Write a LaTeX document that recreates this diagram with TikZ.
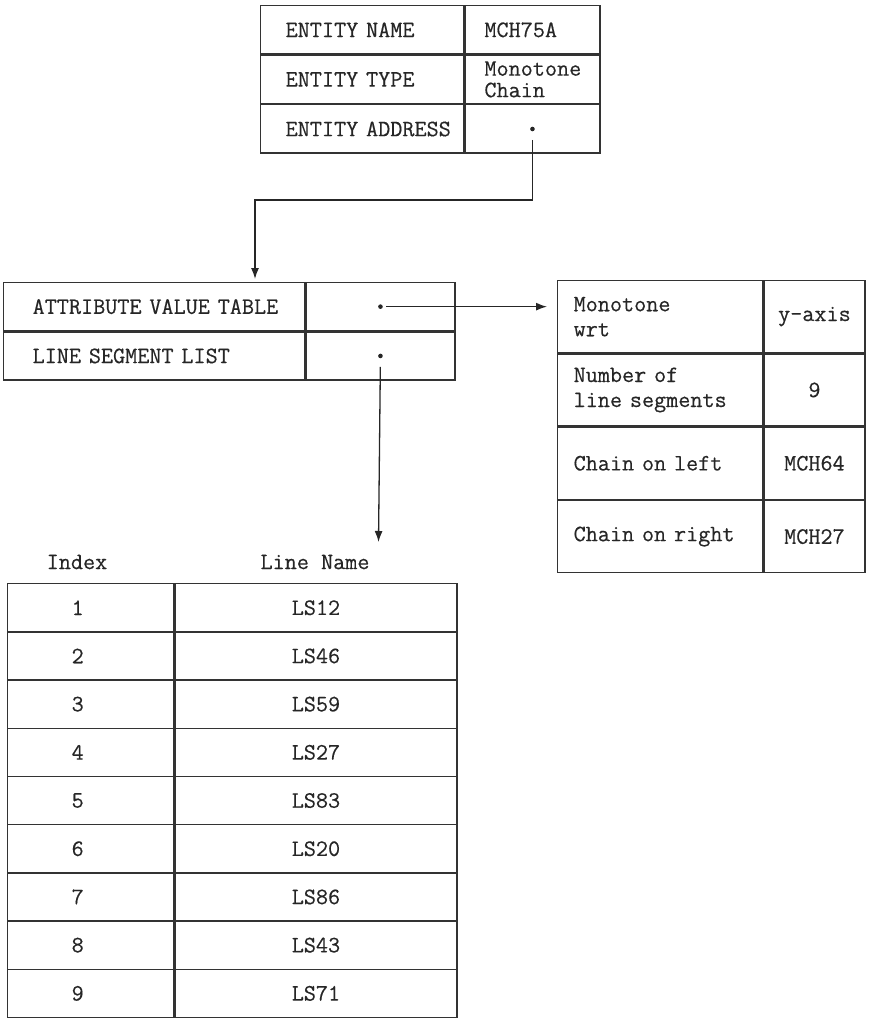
\documentclass[tikz,border=0pt]{standalone}
\usepackage{fontspec}
\setmonofont{Latin Modern Mono}[FakeBold=0.4]
\usetikzlibrary{arrows.meta}

\tikzset{
  cell/.style={draw=black!80, line width=1.3pt, anchor=north west, inner ysep=0pt, inner xsep=0pt},
  namecell/.style={cell, minimum width=203pt, minimum height=48.3pt, inner xsep=25pt, text width=153pt, align=left},
  valcell/.style={cell, minimum width=135pt, minimum height=48.3pt, text width=96pt, align=left},
  keycell/.style={cell, minimum width=301pt, minimum height=48pt, inner xsep=29pt, text width=243pt, align=left},
  ptrcell/.style={cell, minimum width=149pt, minimum height=48pt},
  attrcell/.style={cell, minimum width=205pt, minimum height=72pt, inner xsep=16pt, text width=173pt, align=left},
  avcell/.style={cell, minimum width=101pt, minimum height=72pt, align=center},
  idxcell/.style={cell, minimum width=166pt, minimum height=48.2pt, inner xsep=64pt, text width=38pt, align=left},
  lncell/.style={cell, minimum width=282pt, minimum height=48.2pt, align=center},
  colhead/.style={inner sep=0pt},
  dot/.style={circle, fill=black!85, inner sep=0pt, minimum size=4.6pt},
  arr/.style={draw=black!85, line width=1.3pt, -{Latex[length=11pt,width=8pt]}}
}

\begin{document}
\begin{tikzpicture}[x=1pt, y=-1pt, font=\fontsize{23.5}{25}\selectfont\ttfamily, text=black!85]
\useasboundingbox (0,0) rectangle (868,1019);

% entity record
\node[namecell] (enl) at (260,5) {ENTITY~NAME};
\node[valcell] (env) at (enl.north east) {MCH75A};
\node[namecell] (etl) at (enl.south west) {ENTITY~TYPE};
\node[valcell, font=\fontsize{23.5}{21.5}\selectfont\ttfamily] (etv) at (etl.north east) {Monotone\\Chain};
\node[namecell] (eal) at (etl.south west) {ENTITY~ADDRESS};
\node[valcell] (eav) at (eal.north east) {};
\node[dot] (adr) at (eav.center) {};

% chain record
\node[keycell] (avtl) at (3,282) {ATTRIBUTE~VALUE~TABLE};
\node[ptrcell] (avtv) at (avtl.north east) {};
\node[keycell] (lsll) at (avtl.south west) {LINE~SEGMENT~LIST};
\node[ptrcell] (lslv) at (lsll.north east) {};
\node[dot] (avtd) at (avtv.center) {};
\node[dot] (lsld) at (lslv.center) {};

% attribute value table
\node[attrcell] (mwl) at (557,280) {Monotone\\wrt};
\node[avcell] (mwv) at (mwl.north east) {y-axis};
\node[attrcell] (nsl) at (mwl.south west) {Number of\\line segments};
\node[avcell] (nsv) at (nsl.north east) {9};
\node[attrcell] (cll) at (nsl.south west) {Chain on left};
\node[avcell] (clv) at (cll.north east) {MCH64};
\node[attrcell] (crl) at (cll.south west) {Chain on right};
\node[avcell] (crv) at (crl.north east) {MCH27};

% line segment list
\node[colhead] (idxhead) at (77,562) {Index};
\node[colhead] (lnhead) at (315,562) {Line Name};
\foreach \i/\ls in {1/LS12,2/LS46,3/LS59,4/LS27,5/LS83,6/LS20,7/LS86,8/LS43,9/LS71}{
  \node[idxcell] (idx\i) at (7,{583+48.2*(\i-1)}) {\i};
  \node[lncell] (ln\i) at (idx\i.north east) {\ls};
}

% pointers
\coordinate (lstip) at (378.5,542);
\draw[arr, shorten <=11pt] (adr.center) -- ++(0,71) -| ([xshift=252pt,yshift=3pt]avtl.north west);
\draw[arr, shorten <=6pt, shorten >=10pt] (avtd.center) -- (avtd.center -| mwl.west);
\draw[arr, shorten <=11pt] (lsld.center) -- (lstip);
\end{tikzpicture}
\end{document}
